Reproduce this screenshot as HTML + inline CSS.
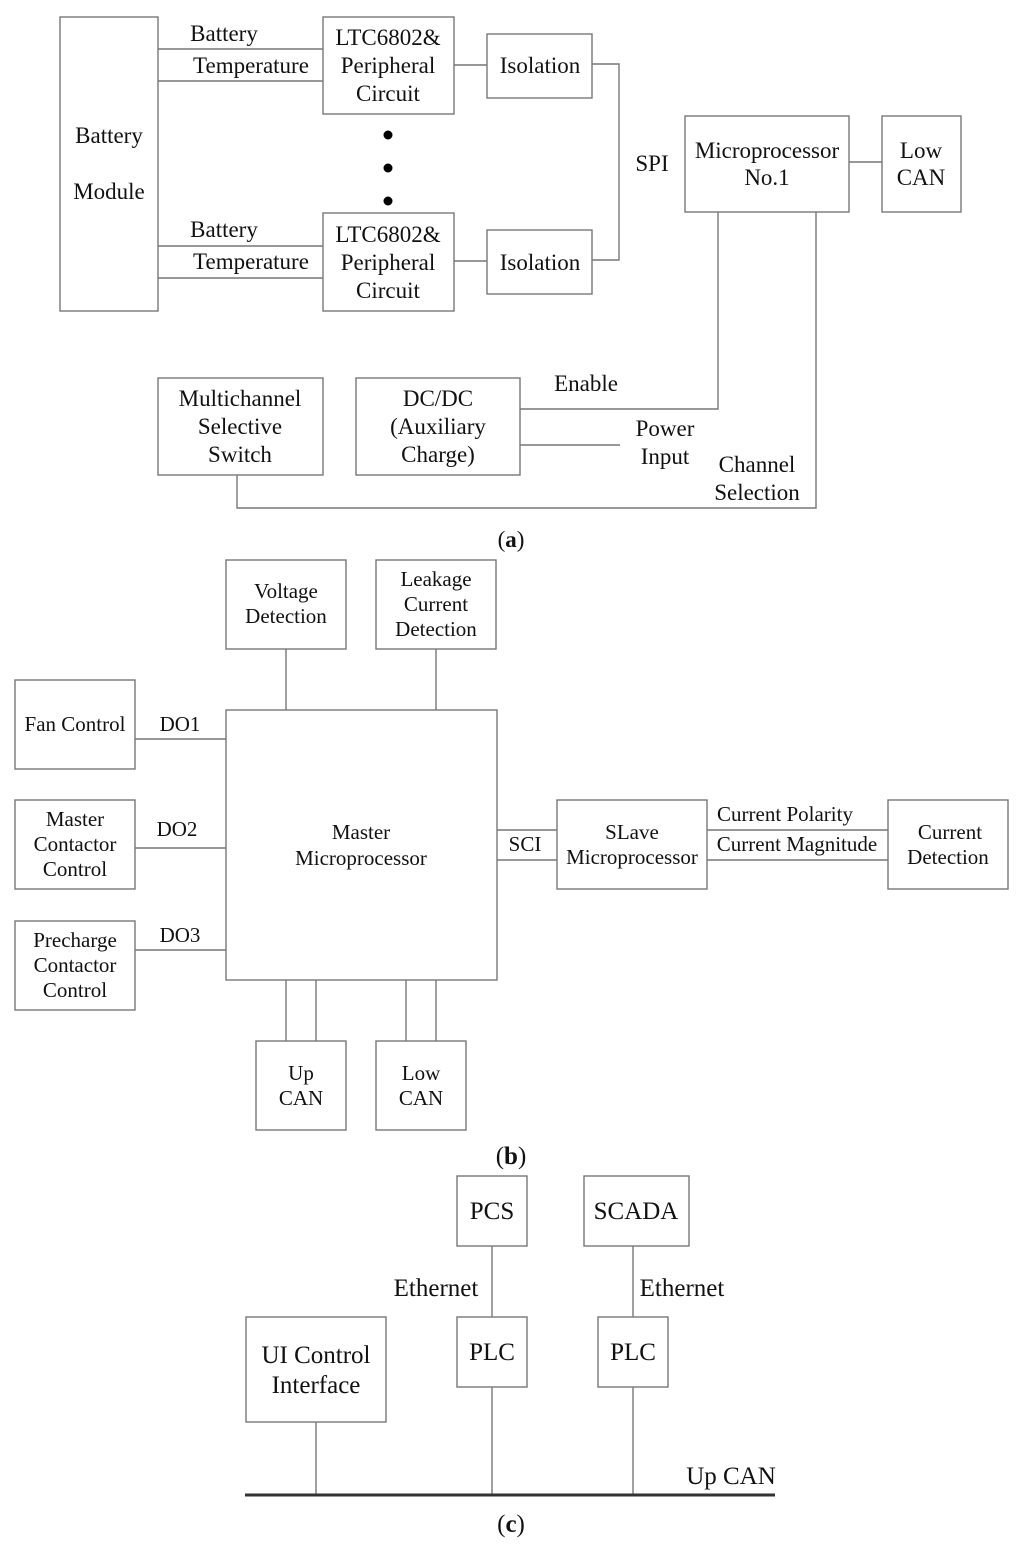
<!DOCTYPE html>
<html><head><meta charset="utf-8"><style>
html,body{margin:0;padding:0;background:#fff;}
svg{display:block;}
text{font-family:"Liberation Serif",serif;fill:#111;text-anchor:middle;}
.a{font-size:23px}.b{font-size:21px}.c{font-size:25px}
rect,line,polyline{stroke:#777;stroke-width:1.4;fill:none;}
</style></head><body>
<svg width="1024" height="1549" viewBox="0 0 1024 1549">
<!-- (a) -->
<rect x="60" y="17" width="98" height="294"/>
<text class="a" x="109" y="143">Battery</text>
<text class="a" x="109" y="199">Module</text>
<line x1="158" y1="49" x2="323" y2="49"/>
<line x1="158" y1="81" x2="323" y2="81"/>
<line x1="158" y1="246" x2="323" y2="246"/>
<line x1="158" y1="278" x2="323" y2="278"/>
<text class="a" x="224" y="41">Battery</text>
<text class="a" x="251" y="73">Temperature</text>
<text class="a" x="224" y="237">Battery</text>
<text class="a" x="251" y="269">Temperature</text>
<rect x="323" y="17" width="131" height="97"/>
<text class="a" x="388" y="45">LTC6802&amp;</text>
<text class="a" x="388" y="73">Peripheral</text>
<text class="a" x="388" y="101">Circuit</text>
<rect x="323" y="213" width="131" height="98"/>
<text class="a" x="388" y="242">LTC6802&amp;</text>
<text class="a" x="388" y="270">Peripheral</text>
<text class="a" x="388" y="298">Circuit</text>
<circle cx="388" cy="135" r="4.5" fill="#000"/>
<circle cx="388" cy="168" r="4.5" fill="#000"/>
<circle cx="388" cy="201" r="4.5" fill="#000"/>
<rect x="487" y="34" width="105" height="64"/>
<text class="a" x="540" y="73">Isolation</text>
<rect x="487" y="230" width="105" height="64"/>
<text class="a" x="540" y="270">Isolation</text>
<line x1="454" y1="65" x2="487" y2="65"/>
<line x1="454" y1="261" x2="487" y2="261"/>
<polyline points="592,64 619,64 619,260 592,260"/>
<text class="a" x="652" y="171">SPI</text>
<rect x="685" y="116" width="164" height="96"/>
<text class="a" x="767" y="158">Microprocessor</text>
<text class="a" x="767" y="185">No.1</text>
<rect x="882" y="116" width="79" height="96"/>
<text class="a" x="921" y="158">Low</text>
<text class="a" x="921" y="185">CAN</text>
<line x1="849" y1="162" x2="882" y2="162"/>
<rect x="158" y="378" width="165" height="97"/>
<text class="a" x="240" y="406">Multichannel</text>
<text class="a" x="240" y="434">Selective</text>
<text class="a" x="240" y="462">Switch</text>
<rect x="356" y="378" width="164" height="97"/>
<text class="a" x="438" y="406">DC/DC</text>
<text class="a" x="438" y="434">(Auxiliary</text>
<text class="a" x="438" y="462">Charge)</text>
<polyline points="718,212 718,409 520,409"/>
<text class="a" x="586" y="391">Enable</text>
<line x1="520" y1="445" x2="620" y2="445"/>
<text class="a" x="665" y="436">Power</text>
<text class="a" x="665" y="464">Input</text>
<polyline points="816,212 816,508 237,508 237,475"/>
<text class="a" x="757" y="472">Channel</text>
<text class="a" x="757" y="500">Selection</text>
<text class="a" x="511" y="547">(<tspan font-weight="bold">a</tspan>)</text>
<!-- (b) -->
<rect x="226" y="560" width="120" height="89"/>
<text class="b" x="286" y="598">Voltage</text>
<text class="b" x="286" y="623">Detection</text>
<rect x="376" y="560" width="120" height="89"/>
<text class="b" x="436" y="586">Leakage</text>
<text class="b" x="436" y="611">Current</text>
<text class="b" x="436" y="636">Detection</text>
<line x1="286" y1="649" x2="286" y2="710"/>
<line x1="436" y1="649" x2="436" y2="710"/>
<rect x="226" y="710" width="271" height="270"/>
<text class="b" x="361" y="839">Master</text>
<text class="b" x="361" y="865">Microprocessor</text>
<rect x="15" y="680" width="120" height="89"/>
<text class="b" x="75" y="731">Fan Control</text>
<line x1="135" y1="739" x2="226" y2="739"/>
<text class="b" x="180" y="731">DO1</text>
<rect x="15" y="800" width="120" height="89"/>
<text class="b" x="75" y="826">Master</text>
<text class="b" x="75" y="851">Contactor</text>
<text class="b" x="75" y="876">Control</text>
<line x1="135" y1="848" x2="226" y2="848"/>
<text class="b" x="177" y="836">DO2</text>
<rect x="15" y="921" width="120" height="89"/>
<text class="b" x="75" y="947">Precharge</text>
<text class="b" x="75" y="972">Contactor</text>
<text class="b" x="75" y="997">Control</text>
<line x1="135" y1="950" x2="226" y2="950"/>
<text class="b" x="180" y="942">DO3</text>
<line x1="286" y1="980" x2="286" y2="1041"/>
<line x1="316" y1="980" x2="316" y2="1041"/>
<line x1="406" y1="980" x2="406" y2="1041"/>
<line x1="436" y1="980" x2="436" y2="1041"/>
<rect x="256" y="1041" width="90" height="89"/>
<text class="b" x="301" y="1080">Up</text>
<text class="b" x="301" y="1105">CAN</text>
<rect x="376" y="1041" width="90" height="89"/>
<text class="b" x="421" y="1080">Low</text>
<text class="b" x="421" y="1105">CAN</text>
<line x1="497" y1="830" x2="557" y2="830"/>
<line x1="497" y1="860" x2="557" y2="860"/>
<text class="b" x="525" y="851">SCI</text>
<rect x="557" y="800" width="150" height="89"/>
<text class="b" x="632" y="839">SLave</text>
<text class="b" x="632" y="864">Microprocessor</text>
<line x1="707" y1="830" x2="888" y2="830"/>
<line x1="707" y1="860" x2="888" y2="860"/>
<text class="b" x="785" y="821">Current Polarity</text>
<text class="b" x="797" y="851">Current Magnitude</text>
<rect x="888" y="800" width="120" height="89"/>
<text class="b" x="950" y="839">Current</text>
<text class="b" x="948" y="864">Detection</text>
<text class="c" x="511" y="1164">(<tspan font-weight="bold">b</tspan>)</text>
<!-- (c) -->
<rect x="457" y="1176" width="70" height="70"/>
<text class="c" x="492" y="1219">PCS</text>
<rect x="584" y="1176" width="105" height="70"/>
<text class="c" x="636" y="1219">SCADA</text>
<line x1="492" y1="1246" x2="492" y2="1317"/>
<line x1="633" y1="1246" x2="633" y2="1317"/>
<text class="c" x="436" y="1296">Ethernet</text>
<text class="c" x="682" y="1296">Ethernet</text>
<rect x="457" y="1317" width="70" height="70"/>
<text class="c" x="492" y="1360">PLC</text>
<rect x="598" y="1317" width="70" height="70"/>
<text class="c" x="633" y="1360">PLC</text>
<rect x="246" y="1317" width="140" height="105"/>
<text class="c" x="316" y="1363">UI Control</text>
<text class="c" x="316" y="1393">Interface</text>
<line x1="316" y1="1422" x2="316" y2="1494"/>
<line x1="492" y1="1387" x2="492" y2="1494"/>
<line x1="633" y1="1387" x2="633" y2="1494"/>
<line x1="245" y1="1495" x2="775" y2="1495" style="stroke:#333;stroke-width:3"/>
<text class="c" x="731" y="1484">Up CAN</text>
<text class="c" x="511" y="1532">(<tspan font-weight="bold">c</tspan>)</text>
</svg>
</body></html>
